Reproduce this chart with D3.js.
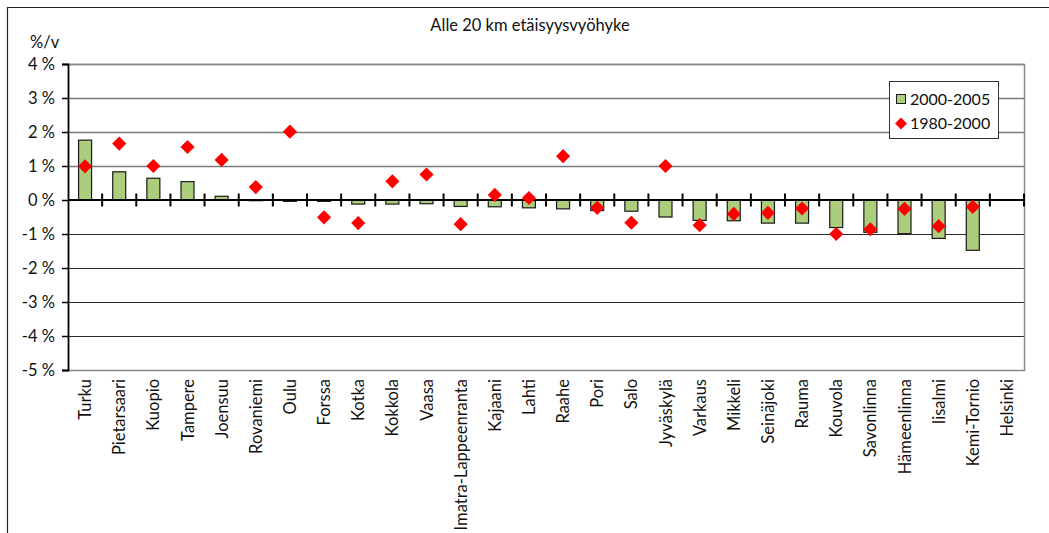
<!DOCTYPE html>
<html>
<head>
<meta charset="utf-8">
<script src="https://cdn.jsdelivr.net/npm/d3@7"></script>
<style>
  html, body { margin: 0; padding: 0; background: #fff; }
  svg { display: block; font-family: Lato, "Open Sans", sans-serif; }
</style>
</head>
<body>
<svg id="chart" width="1049" height="533"></svg>
<script>
// Average annual population change within 20 km zone, by urban region
const cities = ["Turku", "Pietarsaari", "Kuopio", "Tampere", "Joensuu", "Rovaniemi", "Oulu",
  "Forssa", "Kotka", "Kokkola", "Vaasa", "Imatra-Lappeenranta", "Kajaani", "Lahti", "Raahe",
  "Pori", "Salo", "Jyväskylä", "Varkaus", "Mikkeli", "Seinäjoki", "Rauma", "Kouvola",
  "Savonlinna", "Hämeenlinna", "Iisalmi", "Kemi-Tornio", "Helsinki"];

// 2000-2005, %/year
const change2000_2005 = [1.76, 0.83, 0.64, 0.54, 0.11, -0.02, -0.04,
  -0.04, -0.12, -0.12, -0.11, -0.19, -0.20, -0.23, -0.26,
  -0.31, -0.33, -0.50, -0.60, -0.61, -0.68, -0.68, -0.81,
  -0.95, -0.99, -1.13, -1.48, null];

// 1980-2000, %/year
const change1980_2000 = [0.99, 1.66, 1.00, 1.56, 1.18, 0.38, 2.01,
  -0.51, -0.68, 0.55, 0.75, -0.71, 0.15, 0.06, 1.29,
  -0.23, -0.67, 1.00, -0.74, -0.41, -0.38, -0.25, -1.00,
  -0.86, -0.26, -0.77, -0.20, null];

const yTicks = [4, 3, 2, 1, 0, -1, -2, -3, -4, -5];
const seriesNames = ["2000-2005", "1980-2000"];
const title = "Alle 20 km etäisyysvyöhyke";
const yUnit = "%/v";

const svg = d3.select("#chart");
const plot = { left: 68, right: 1024, top: 64, bottom: 370 };
const fontSize = 16.5;

const x = d3.scaleBand().domain(cities).range([plot.left, plot.right]).padding(0);
const y = d3.scaleLinear().domain([-5, 4]).range([plot.bottom, plot.top]);

// outer frame (left and top edges)
svg.append("path")
  .attr("d", "M7.5,533 L7.5,7.5 L1049,7.5")
  .attr("fill", "none").attr("stroke", "#222").attr("stroke-width", 1.2);

// title and unit
svg.append("text").attr("x", 530).attr("y", 31).attr("text-anchor", "middle")
  .attr("font-size", fontSize).attr("fill", "#111").text(title);
svg.append("text").attr("x", 30).attr("y", 48)
  .attr("font-size", fontSize).attr("fill", "#111").text(yUnit);

// horizontal gridlines
svg.append("g").selectAll("line").data(yTicks.filter(t => t !== 0 && t !== -5)).join("line")
  .attr("x1", plot.left).attr("x2", plot.right)
  .attr("y1", d => Math.round(y(d)) + 0.5).attr("y2", d => Math.round(y(d)) + 0.5)
  .attr("stroke", d => d > 0 ? "#7a7a7a" : "#2a2a2a")
  .attr("stroke-width", d => d > 0 ? 1.5 : 1);

// plot border (top, right, bottom)
svg.append("path")
  .attr("d", `M${plot.left},${plot.top + 0.5} L${plot.right + 0.5},${plot.top + 0.5} L${plot.right + 0.5},${plot.bottom + 0.5} L${plot.left},${plot.bottom + 0.5}`)
  .attr("fill", "none").attr("stroke", "#8a8a8a").attr("stroke-width", 1.5);

// bars 2000-2005
const barW = 13;
svg.append("g").selectAll("rect")
  .data(cities.map((c, i) => ({ c, v: change2000_2005[i] })).filter(d => d.v !== null))
  .join("rect")
  .attr("x", d => x(d.c) + x.bandwidth() / 2 - barW / 2)
  .attr("y", d => y(Math.max(0, d.v)))
  .attr("width", barW)
  .attr("height", d => Math.abs(y(d.v) - y(0)))
  .attr("fill", "#abcd7c")
  .attr("stroke", "#1a1a1a").attr("stroke-width", 1.2);

// y axis
const yAxis = d3.axisLeft(y).tickValues(yTicks).tickSize(6).tickPadding(7)
  .tickFormat(d => `${d} %`);
const gy = svg.append("g").attr("transform", `translate(${plot.left},0)`).call(yAxis);
gy.select(".domain").attr("stroke", "#000").attr("stroke-width", 1.8);
gy.selectAll(".tick line").attr("stroke", "#000").attr("stroke-width", 1.5);
gy.selectAll(".tick text").attr("font-size", fontSize).attr("fill", "#111")
  .attr("font-family", "Lato, sans-serif");

// zero axis with category tick marks crossing it
svg.append("line").attr("x1", plot.left).attr("x2", plot.right)
  .attr("y1", y(0)).attr("y2", y(0)).attr("stroke", "#000").attr("stroke-width", 2.2);
const boundaries = cities.map(c => x(c) + x.bandwidth());
svg.append("g").selectAll("line").data(boundaries).join("line")
  .attr("x1", d => d).attr("x2", d => d)
  .attr("y1", y(0) - 6.5).attr("y2", y(0) + 6.5)
  .attr("stroke", "#000").attr("stroke-width", 2);

// diamonds 1980-2000
const diamond = d3.symbol().type(d3.symbolDiamond2).size(128);
svg.append("g").selectAll("path")
  .data(cities.map((c, i) => ({ c, v: change1980_2000[i] })).filter(d => d.v !== null))
  .join("path")
  .attr("transform", d => `translate(${x(d.c) + x.bandwidth() / 2},${y(d.v)})`)
  .attr("d", diamond)
  .attr("fill", "#ff0000");

// category labels, rotated
svg.append("g").selectAll("text").data(cities).join("text")
  .attr("transform", d => `translate(${x(d) + x.bandwidth() / 2 + 6},379) rotate(-90)`)
  .attr("text-anchor", "end")
  .attr("font-size", fontSize).attr("fill", "#111")
  .text(d => d);

// legend
const lg = svg.append("g");
lg.append("rect").attr("x", 889.5).attr("y", 81.5).attr("width", 109).attr("height", 57)
  .attr("fill", "#fff").attr("stroke", "#333").attr("stroke-width", 1);
lg.append("rect").attr("x", 896.5).attr("y", 94.5).attr("width", 9).attr("height", 9)
  .attr("fill", "#abcd7c").attr("stroke", "#1a1a1a").attr("stroke-width", 1);
lg.append("text").attr("x", 910).attr("y", 105).attr("font-size", 16).attr("fill", "#111")
  .text(seriesNames[0]);
lg.append("path").attr("transform", "translate(901,123.5)")
  .attr("d", d3.symbol().type(d3.symbolDiamond2).size(90)).attr("fill", "#ff0000");
lg.append("text").attr("x", 910).attr("y", 129).attr("font-size", 16).attr("fill", "#111")
  .text(seriesNames[1]);
</script>
</body>
</html>
